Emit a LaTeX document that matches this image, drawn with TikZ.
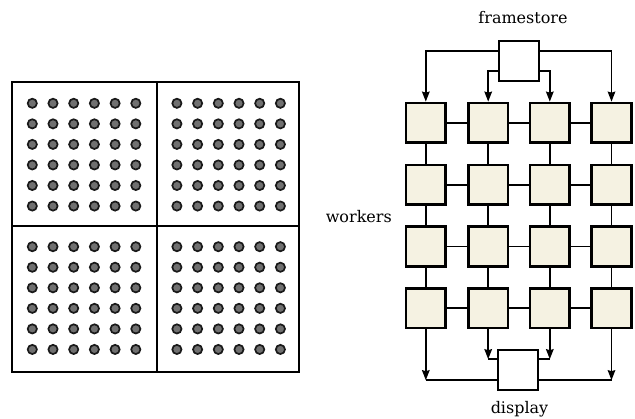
\documentclass[tikz,border=0pt]{standalone}
\usepackage{fontspec}
\setmainfont{DejaVu Serif}
\usetikzlibrary{arrows.meta}
\definecolor{workerfill}{HTML}{F5F2E2}
\definecolor{dotfill}{HTML}{707070}
\tikzset{
  worker/.style={draw=black, line width=2.8pt, fill=workerfill, minimum size=39.5pt, inner sep=0pt},
  iobox/.style={draw=black, line width=2pt, fill=white, minimum size=40pt, inner sep=0pt},
  link/.style={draw=black, line width=1.8pt},
  feed/.style={draw=black, line width=1.8pt, -{Stealth[length=10pt,width=7.5pt,inset=1pt]}},
  lbl/.style={font=\fontsize{16}{18}\selectfont, inner sep=0pt},
  dot/.style={draw=black!90, fill=dotfill, line width=1.7pt}
}
\begin{document}
\begin{tikzpicture}[x=1pt,y=-1pt]
\useasboundingbox (0,0) rectangle (635,419);
% left panel
\draw[line width=2.2pt] (12,82) rectangle (299,372);
\draw[line width=1.8pt] (157,82) -- (157,372);
\draw[line width=1.8pt] (12,226) -- (299,226);
\foreach \qx in {0,1} {
  \foreach \qy in {0,1} {
    \foreach \i in {0,...,5} {
      \foreach \j in {0,...,5} {
        \path[dot] ({32.3+144.6*\qx+20.7*\i},{103.3+143.4*\qy+20.55*\j}) circle (4.6pt);
      }
    }
  }
}
% right panel
\foreach \r/\y in {1/122.8,2/184.7,3/246.6,4/308.3} {
  \foreach \c/\x in {1/425.8,2/488.2,3/549.8,4/611.5} {
    \node[worker] (w\r\c) at (\x,\y) {};
  }
}
\foreach \r in {1,...,4} {
  \draw[link] (w\r1.east) -- (w\r2.west);
  \draw[link] (w\r2.east) -- (w\r3.west);
  \draw[link] (w\r3.east) -- (w\r4.west);
}
\foreach \c in {1,...,4} {
  \draw[link] (w1\c.south) -- (w2\c.north);
  \draw[link] (w2\c.south) -- (w3\c.north);
  \draw[link] (w3\c.south) -- (w4\c.north);
}
\node[iobox] (fs) at (519.2,60.9) {};
\node[iobox] (disp) at (518.3,370.2) {};
\node[lbl] (fslbl) at (523,18) {framestore};
\node[lbl] (displbl) at (519.5,409) {display};
\node[lbl, anchor=east] (wlbl) at (392,216.5) {workers};
% framestore feeds
\draw[feed] ([yshift=10pt]fs.west) -| (w11.north);
\draw[feed] ([yshift=-10pt]fs.west) -| (w12.north);
\draw[feed] ([yshift=-10pt]fs.east) -| (w13.north);
\draw[feed] ([yshift=10pt]fs.east) -| (w14.north);
% display feeds
\coordinate (d1) at (w41.south |- 0,380.2);
\coordinate (d2) at (w42.south |- 0,359.2);
\coordinate (d3) at (w43.south |- 0,359.2);
\coordinate (d4) at (w44.south |- 0,380.2);
\draw[feed] (w41.south) -- (d1);
\draw[feed] (w42.south) -- (d2);
\draw[feed] (w43.south) -- (d3);
\draw[feed] (w44.south) -- (d4);
\draw[link] (d1) -- (disp.west |- d1);
\draw[link] (d2) -- (disp.west |- d2);
\draw[link] (d3) -- (disp.east |- d3);
\draw[link] (d4) -- (disp.east |- d4);
\end{tikzpicture}
\end{document}
